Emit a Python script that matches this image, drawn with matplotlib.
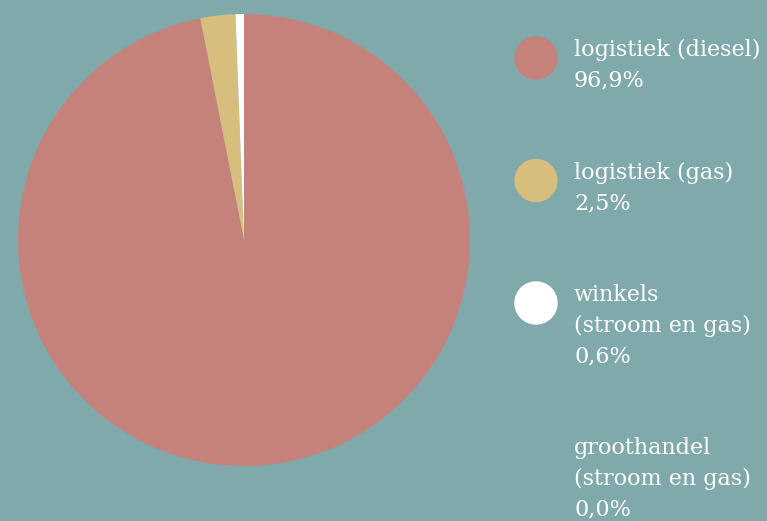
import matplotlib.pyplot as plt
from matplotlib.patches import Ellipse

categories = ["logistiek (diesel)", "logistiek (gas)", "winkels\n(stroom en gas)", "groothandel\n(stroom en gas)"]
shares = [96.9, 2.5, 0.6, 0.0]
colors = ["#C5827A", "#D8BE7C", "#FFFFFF", "#80A9AC"]
bg = "#80A9AC"

W, H = 767, 521
fig = plt.figure(figsize=(W / 100, H / 100), dpi=100, facecolor=bg)

# pie
ax = fig.add_axes([18 / W, (H - 466) / H, 452 / W, 452 / H])
ax.set_facecolor(bg)
ax.pie(shares, colors=colors, startangle=90, counterclock=False,
       radius=1, wedgeprops={"linewidth": 0})
ax.set_xlim(-1, 1)
ax.set_ylim(-1, 1)
ax.set_aspect("equal")
ax.axis("off")

# legend drawn by hand
font = {"family": "DejaVu Serif", "size": 16, "color": "white"}
line_h = 30.5
y = 50
for cat, val, col in zip(categories, shares, colors):
    lines = cat.split("\n") + [f"{val:.1f}%".replace(".", ",")]
    if val > 0:
        fig.patches.append(Ellipse((536 / W, 1 - (y + 8) / H), 42 / W, 42 / H,
                                   transform=fig.transFigure, color=col))
    for i, txt in enumerate(lines):
        fig.text(574 / W, 1 - (y + i * line_h) / H, txt, va="center", ha="left",
                 fontdict=font)
    y += (len(lines) - 1) * line_h + 92

fig.savefig("out.png", dpi=100, facecolor=bg)
